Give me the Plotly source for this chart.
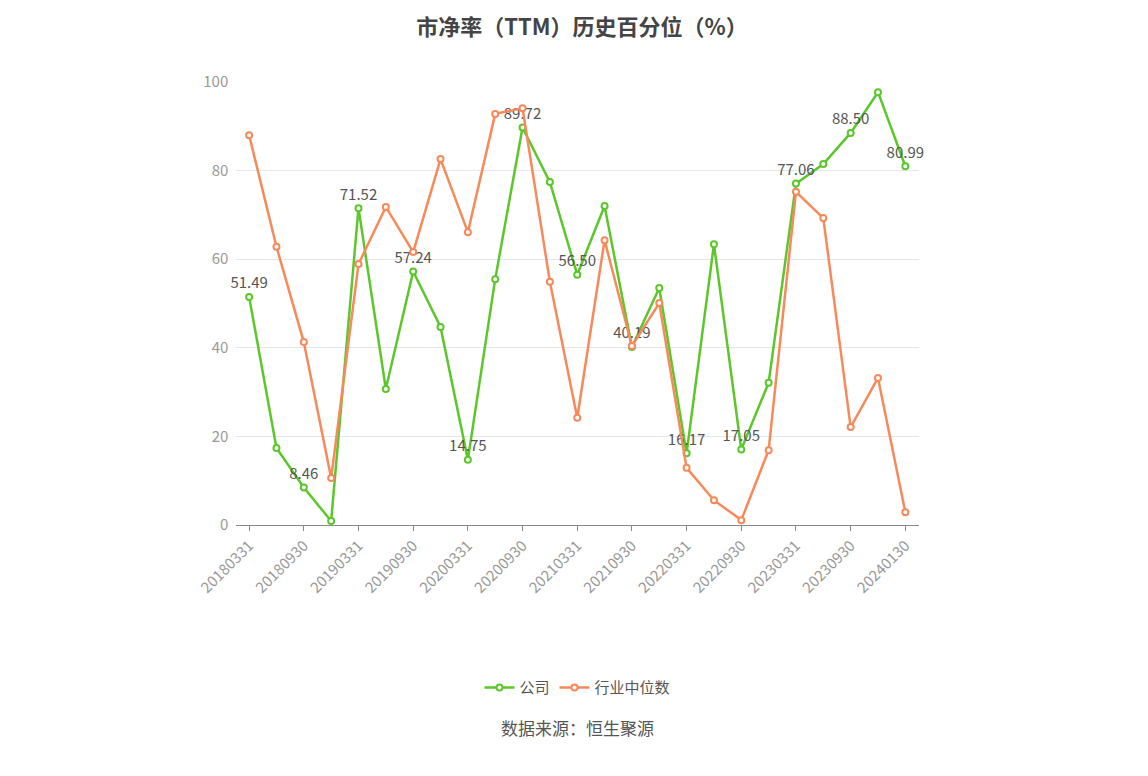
import plotly.graph_objects as go

dates = ["20180331", "20180630", "20180930", "20181231",
         "20190331", "20190630", "20190930", "20191231",
         "20200331", "20200630", "20200930", "20201231",
         "20210331", "20210630", "20210930", "20211231",
         "20220331", "20220630", "20220930", "20221231",
         "20230331", "20230630", "20230930", "20231231", "20240130"]
company = [51.49, 17.4, 8.46, 0.9, 71.52, 30.7, 57.24, 44.7, 14.75, 55.5, 89.72, 77.4,
           56.50, 72.0, 40.19, 53.5, 16.17, 63.4, 17.05, 32.1, 77.06, 81.5, 88.50, 97.7, 80.99]
industry = [88.0, 62.8, 41.3, 10.6, 58.9, 71.8, 61.6, 82.6, 66.1, 92.8, 94.1, 54.9,
            24.2, 64.3, 40.4, 50.1, 12.9, 5.6, 1.1, 16.9, 75.2, 69.3, 22.1, 33.2, 2.9]

labels = [f"{v:.2f}" if i % 2 == 0 else "" for i, v in enumerate(company)]
font = "Noto Sans CJK SC"

fig = go.Figure()
fig.add_trace(go.Scatter(
    x=dates, y=company, name="公司", mode="lines+markers+text",
    line=dict(color="#5bc72a", width=2.5),
    marker=dict(size=6, color="white", line=dict(color="#5bc72a", width=2)),
    text=labels, textposition="top center",
    textfont=dict(size=15, color="#555"), cliponaxis=False))
fig.add_trace(go.Scatter(
    x=dates, y=industry, name="行业中位数", mode="lines+markers",
    line=dict(color="#f7895a", width=2.5),
    marker=dict(size=6, color="white", line=dict(color="#f7895a", width=2))))

fig.update_layout(
    width=1148, height=776, plot_bgcolor="white", paper_bgcolor="white",
    font=dict(family=font, color="#999"),
    title=dict(text="<b>市净率（TTM）历史百分位（%）</b>", x=0.5, y=0.985,
               font=dict(size=22, color="#444")),
    margin=dict(l=228, r=237, t=74, b=259),
    showlegend=True,
    legend=dict(orientation="h", x=0.5, xanchor="center", y=-0.33,
                font=dict(size=15, color="#555")),
    annotations=[dict(text="数据来源：恒生聚源", x=0.5, xref="paper",
                      y=-0.49, yref="paper", showarrow=False,
                      font=dict(size=17, color="#555"))])
fig.update_xaxes(type="category", tickvals=dates[::2], tickangle=-45,
                 range=[-0.48, 24.5],
                 showline=True, linecolor="#888", ticks="outside", tickcolor="#888",
                 tickfont=dict(size=15, color="#999"), showgrid=False)
fig.update_yaxes(range=[0, 100], dtick=20, gridcolor="#e3e6ee", zeroline=False,
                 tickfont=dict(size=15, color="#999"), ticksuffix="  ")
fig.write_html("out.html")
